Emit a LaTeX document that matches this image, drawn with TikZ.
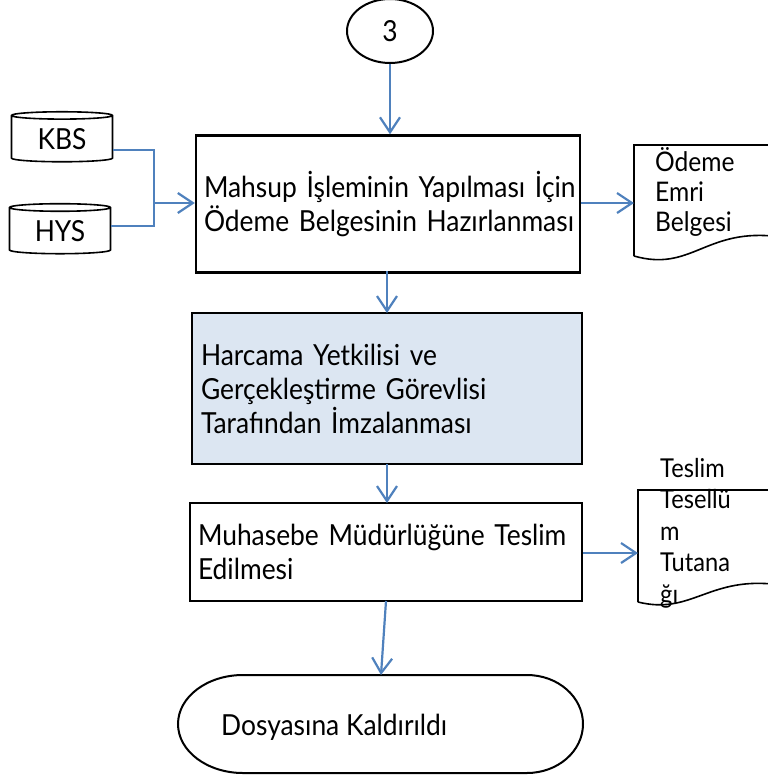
\documentclass[tikz,border=0pt]{standalone}
\usepackage{fontspec}
\setmainfont{Lato}[FakeStretch=0.91]
\usetikzlibrary{arrows.meta,shapes.geometric}
\definecolor{arrblue}{HTML}{4F81BD}
\definecolor{boxfill}{HTML}{DCE6F2}
\begin{document}
\begin{tikzpicture}[x=1pt,y=-1pt,
  procbox/.style={draw=black, line width=2.4pt, rectangle, inner sep=0pt, align=left,
    font=\fontsize{29}{34}\selectfont},
  conn/.style={draw=arrblue, line width=2.2pt,
    -{Straight Barb[length=15pt,width=20pt,line width=2.2pt]}},
  plainconn/.style={draw=arrblue, line width=2.2pt},
  dbnode/.style={draw=black, line width=1.6pt, cylinder, shape border rotate=90,
    aspect=0.15, minimum width=101pt, minimum height=50pt, inner sep=0pt,
    font=\fontsize{29}{34}\selectfont},
  doctext/.style={anchor=north west, align=left, inner sep=0pt,
    font=\fontsize{27}{30}\selectfont},
  docshape/.style={draw=black, line width=1.6pt, fill=white}
]
\useasboundingbox (0,0) rectangle (768,780);

% connector circle
\node[draw=black, line width=2pt, ellipse, minimum width=86pt, minimum height=64pt,
  font=\fontsize{29}{34}\selectfont] (c3) at (390,31) {3};

% process boxes
\node[procbox, minimum width=384pt, minimum height=137pt, text width=368pt] (b1) at (388,204)
  {\mbox{Mahsup İşleminin Yapılması İçin}\\\mbox{Ödeme Belgesinin Hazırlanması}};
\node[procbox, fill=boxfill, minimum width=390pt, minimum height=151pt, text width=372pt] (b2) at (387,388.5)
  {\mbox{Harcama Yetkilisi ve}\\\mbox{Gerçekleştirme Görevlisi}\\\mbox{Tarafından İmzalanması}};
\node[procbox, minimum width=392pt, minimum height=98pt, text width=376pt] (b3) at (386,552)
  {\mbox{Muhasebe Müdürlüğüne Teslim}\\\mbox{Edilmesi}};

% databases
\node[dbnode] (kbs) at (62,139) {KBS};
\node[dbnode] (hys) at (60,231) {HYS};

% documents
\draw[docshape] (634,256) -- (634,145) -- (772,145) -- (772,236)
  .. controls (705,230) and (690,272) .. (634,256);
\coordinate (d1) at (634,203);
\node[doctext] (d1t) at (655,147) {Ödeme\\Emri\\Belgesi};

\draw[docshape] (638,602) -- (638,490) -- (772,490) -- (772,584)
  .. controls (708,578) and (690,615) .. (638,602);
\coordinate (d2) at (638,553);
\node[doctext, font=\fontsize{26}{31.5}\selectfont] (d2t) at (660,458) {Teslim\\Tesellü\\m\\Tutana\\ğı};

% terminal
\draw[draw=black, line width=2pt] (243,675) -- (527,675)
  arc[start angle=-90, end angle=90, x radius=56, y radius=49]
  -- (243,773) arc[start angle=90, end angle=270, x radius=65, y radius=49] -- cycle;
\node[anchor=base west, inner sep=0pt, font=\fontsize{29}{34}\selectfont] (term) at (221,735) {Dosyasına Kaldırıldı};
\coordinate (termtop) at (381,675);

% connectors
\draw[conn] (c3.south) -- (b1.north -| c3.south);
\coordinate (j) at (154,203);
\draw[plainconn] (kbs.east |- 0,150) -| (j);
\draw[plainconn] (hys.east |- 0,226) -| (j);
\draw[conn] (j) -- (b1.west |- j);
\draw[conn] (b1.east |- d1) -- (d1);
\draw[conn] (387,271) -- (387,313);
\draw[conn] (387,464) -- (387,503);
\draw[conn] (b3.east |- d2) -- (d2);
\draw[conn] (386,601) -- (termtop);
\end{tikzpicture}
\end{document}
